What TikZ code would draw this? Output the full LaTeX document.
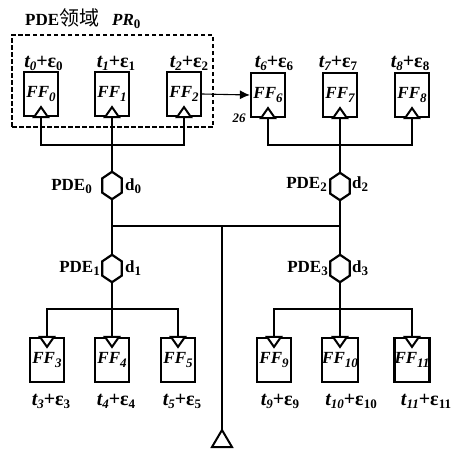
\documentclass[tikz,border=0pt]{standalone}
\usepackage{fontspec}
\setmainfont{Liberation Serif}
\newfontfamily\cjk{Noto Sans CJK SC}
\usetikzlibrary{arrows.meta}
\newcommand{\subsc}[2][]{\raisebox{-3.5pt}{\fontsize{13}{13}\selectfont#1{#2}}}
\newcommand{\ffl}[1]{{\bfseries\itshape FF\subsc[\bfseries\itshape]{#1}}}
\newcommand{\tl}[1]{{\bfseries\itshape t\subsc[\bfseries\itshape]{#1}}{\bfseries +ε\subsc[\bfseries]{#1}}}
\tikzset{
  x=1pt,y=-1pt,
  ffbox/.style={draw,line width=2.2pt,fill=white,minimum width=34pt,minimum height=44pt,inner sep=0pt,font=\fontsize{17}{17}\selectfont},
  hexa/.style={minimum width=19pt,minimum height=27pt,inner sep=0pt},
  wire/.style={line width=2.2pt},
  thin wire/.style={line width=1.1pt},
  tlabel/.style={anchor=base,font=\fontsize{20}{20}\selectfont,inner sep=0pt},
  plabel/.style={anchor=base,font=\fontsize{17}{17}\selectfont,inner sep=0pt},
  tri/.style={line width=2pt,fill=white,line join=miter},
  hexline/.style={line width=2.2pt,fill=white,line join=miter}
}
\newcommand{\clkup}[1]{\draw[tri] ([xshift=-7pt]#1.south) -- ([yshift=10pt]#1.south) -- ([xshift=7pt]#1.south) -- cycle;}
\newcommand{\clkdn}[1]{\draw[tri] ([xshift=-7pt]#1.north) -- ([yshift=-10pt]#1.north) -- ([xshift=7pt]#1.north) -- cycle;}
\newcommand{\hexdraw}[1]{\draw[hexline] (#1.north) -- ([yshift=-6.5pt]#1.north east) -- ([yshift=6.5pt]#1.south east) -- (#1.south) -- ([yshift=6.5pt]#1.south west) -- ([yshift=-6.5pt]#1.north west) -- cycle;}
\begin{document}
\begin{tikzpicture}
\useasboundingbox (0,0) rectangle (464,448);
% region
\node[draw,dash pattern=on 4.5pt off 2.5pt,line width=1.3pt,minimum width=201pt,minimum height=92pt,inner sep=0pt] (region) at (112.5,81) {};
\node[plabel,anchor=base west] (title) at (25,25) {\textbf{PDE}{\fontsize{20}{20}\selectfont\cjk 领域}\hspace{13pt}{\bfseries\itshape PR\subsc{\upshape 0}}};
% top flip-flops
\node[ffbox] (ff0) at (41,94) {\ffl{0}};
\node[ffbox] (ff1) at (112,94) {\ffl{1}};
\node[ffbox] (ff2) at (184,94) {\ffl{2}};
\node[ffbox] (ff6) at (268,95) {\ffl{6}};
\node[ffbox] (ff7) at (340,95) {\ffl{7}};
\node[ffbox] (ff8) at (412,95) {\ffl{8}};
% bottom flip-flops
\node[ffbox] (ff3) at (47,360) {\ffl{3}};
\node[ffbox] (ff4) at (112,360) {\ffl{4}};
\node[ffbox] (ff5) at (178,360) {\ffl{5}};
\node[ffbox] (ff9) at (274,360) {\ffl{9}};
\node[ffbox] (ff10) at (340,360) {\ffl{10}};
\node[ffbox] (ff11) at (412,360) {\ffl{11}};
% hexagons (anchors only, outlines drawn after the wires)
\node[hexa] (p0) at (112,185.5) {};
\node[hexa] (p1) at (112,268.5) {};
\node[hexa] (p2) at (340,186.5) {};
\node[hexa] (p3) at (340,268.5) {};
% junctions
\coordinate (b0) at (112,145);
\coordinate (b2) at (340,145);
\coordinate (b1) at (112,309);
\coordinate (b3) at (340,309);
\coordinate (hl) at (112,226);
\coordinate (hr) at (340,226);
\coordinate (hm) at (222,226);
\coordinate (root) at (222,430);
% wires
\draw[wire] ([yshift=10pt]ff0.south) |- (b0) -| ([yshift=10pt]ff2.south);
\draw[wire] ([yshift=10pt]ff1.south) -- (p0.north);
\draw[wire] ([yshift=10pt]ff6.south) |- (b2) -| ([yshift=10pt]ff8.south);
\draw[wire] ([yshift=10pt]ff7.south) -- (p2.north);
\draw[wire] (p0.south) -- (p1.north);
\draw[wire] (p2.south) -- (p3.north);
\draw[wire] (hl) -- (hr);
\draw[wire] (hm) -- (root);
\draw[wire] ([yshift=-10pt]ff3.north) |- (b1) -| ([yshift=-10pt]ff5.north);
\draw[wire] (p1.south) -- ([yshift=-10pt]ff4.north);
\draw[wire] ([yshift=-10pt]ff9.north) |- (b3) -| ([yshift=-10pt]ff11.north);
\draw[wire] (p3.south) -- ([yshift=-10pt]ff10.north);
\draw[thin wire,-{Latex[length=10pt,width=9pt]}] (ff2.east) -- (ff6.west);
% clock triangles and hexagons
\clkup{ff0}\clkup{ff1}\clkup{ff2}\clkup{ff6}\clkup{ff7}\clkup{ff8}
\clkdn{ff3}\clkdn{ff4}\clkdn{ff5}\clkdn{ff9}\clkdn{ff10}\clkdn{ff11}
\hexdraw{p0}\hexdraw{p1}\hexdraw{p2}\hexdraw{p3}
\draw[tri] (root) -- (232,447) -- (212,447) -- cycle;
% labels
\node[tlabel] (l0) at (43.5,67) {\tl{0}};
\node[tlabel] (l1) at (116,67) {\tl{1}};
\node[tlabel] (l2) at (189,67) {\tl{2}};
\node[tlabel] (l6) at (274,67) {\tl{6}};
\node[tlabel] (l7) at (338,67) {\tl{7}};
\node[tlabel] (l8) at (410,67) {\tl{8}};
\node[tlabel] (l3) at (51,405) {\tl{3}};
\node[tlabel] (l4) at (116,405) {\tl{4}};
\node[tlabel] (l5) at (182,405) {\tl{5}};
\node[tlabel] (l9) at (280,405) {\tl{9}};
\node[tlabel] (l10) at (351,405) {\tl{10}};
\node[tlabel] (l11) at (426,405) {\tl{11}};
\node[plabel,anchor=base east] (n0) at (92,190) {\textbf{PDE}\subsc[\bfseries]{0}};
\node[plabel,anchor=base west] (d0) at (125,190) {\textbf{d}\subsc[\bfseries]{0}};
\node[plabel,anchor=base east] (n1) at (100,272) {\textbf{PDE}\subsc[\bfseries]{1}};
\node[plabel,anchor=base west] (d1) at (125,272) {\textbf{d}\subsc[\bfseries]{1}};
\node[plabel,anchor=base east] (n2) at (327,188) {\textbf{PDE}\subsc[\bfseries]{2}};
\node[plabel,anchor=base west] (d2) at (352,188) {\textbf{d}\subsc[\bfseries]{2}};
\node[plabel,anchor=base east] (n3) at (328,272) {\textbf{PDE}\subsc[\bfseries]{3}};
\node[plabel,anchor=base west] (d3) at (352,272) {\textbf{d}\subsc[\bfseries]{3}};
\node[anchor=base,inner sep=0pt,font=\fontsize{13}{13}\selectfont\bfseries\itshape] (w) at (239,122) {26};
\end{tikzpicture}
\end{document}
